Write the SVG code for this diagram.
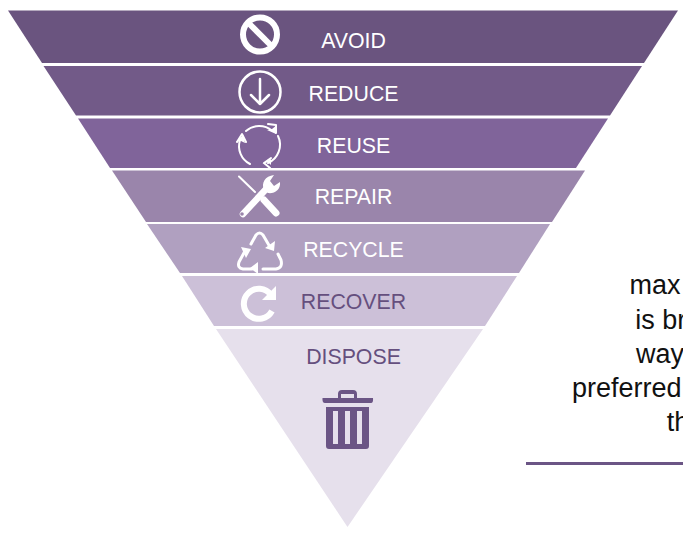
<svg xmlns="http://www.w3.org/2000/svg" width="683" height="535" viewBox="0 0 683 535">
<style>
text{font-family:"Liberation Sans",Arial,sans-serif}
.lb{font-size:21.3px;text-anchor:middle;fill:#fff}
.dk{fill:#654f7e}
.body{font-size:27px;text-anchor:middle;fill:#111}
.ic{fill:none;stroke:#fff;stroke-linecap:round;stroke-linejoin:round}
.wf{fill:#fff;stroke:none}
</style>
<rect width="683" height="535" fill="#fff"/>
<g id="avoid"><polygon points="8,10.5 678,10.5 644,63 42,63" fill="#6a547f"/><g class="ic"><circle cx="260" cy="34.500" r="17" stroke-width="6"/><path d="M248,22.500 272,46.500" stroke-width="6" stroke-linecap="butt"/></g><text class="lb" x="353.500" y="47.500">AVOID</text></g>
<g id="reduce"><polygon points="43.500,66 642,66 610,115.500 76,115.500" fill="#725a88"/><g class="ic"><circle cx="260" cy="92" r="20.500" stroke-width="2.500"/><path d="M260,79V104M251,95 260,104 269,95" stroke-width="2.500"/></g><text class="lb" x="353.500" y="101">REDUCE</text></g>
<g id="reuse"><polygon points="78,118.500 608,118.500 576,168 110,168" fill="#80649a"/><g class="ic" stroke-width="2"><path d="M246,131A20,20 0 0 1 272,130.500"/><path d="M278,136A20,20 0 0 1 268,163"/><path d="M250,164A20,20 0 0 1 240,140"/></g><path class="wf" d="M277,125 276,134 267,130 272,129Z M262,164 271,159 271,165 268,162Z M236,142 243,135 245,143 241,141Z"/><g class="ic" stroke-width="2"><path d="M268,124 276,125 276,133M271,158 264,163 270,168M237,142 242,134 246,142"/></g><text class="lb" x="353.500" y="153">REUSE</text></g>
<g id="repair"><polygon points="112,170.500 585,170.500 552,222 146,222" fill="#9a85ab"/><g class="ic"><path d="M239,176.500 255,192" stroke-width="2"/><path d="M264,200 276,213" stroke-width="7"/><path d="M243,214 268,187" stroke-width="6.500"/></g><path class="wf" d="M264,190C261,183 265,176 274,175L270,181 274,186 280,182C281,190 274,194 268,193Z"/><circle cx="242" cy="214" r="1.800" fill="#9a85ab"/><text class="lb" x="353.500" y="204">REPAIR</text></g>
<g id="recycle"><polygon points="147,224 550,224 519,273 180,273" fill="#b0a0c0"/><g class="ic" stroke-width="3"><path d="M251,244 256,235Q259.500,231 263,235L270,247"/><path d="M278,254 281,260Q283,268 276,269H263"/><path d="M252,269H243Q237,268 239,262L245,251"/></g><path class="wf" d="M275,241 274,251 265,248Z M258,262 258,274 250,268Z M241,247 251,249 246,258Z"/><text class="lb" x="353.500" y="257">RECYCLE</text></g>
<g id="recover"><polygon points="182,276 517,276 485,326 214,326" fill="#ccc0d8"/><path d="M271,295A15,15 0 1 0 272,311" fill="none" stroke="#fff" stroke-width="6"/><path class="wf" d="M276,286V300H262Z"/><text class="lb dk" x="353.500" y="309">RECOVER</text></g>
<g id="dispose"><polygon points="216,329 483,329 347.500,527" fill="#e6e0ec"/><text class="lb dk" x="353.500" y="364">DISPOSE</text><g fill="#6b5585"><path fill-rule="evenodd" d="M338,398V394Q338,390 342,390H353Q357,390 357,394V398H373Q373.500,403 371,403H325Q322,403 322.500,398ZM341,398H354V394H341Z"/><path fill-rule="evenodd" d="M326,407H369V446Q369,449 366,449H329Q326,449 326,446ZM333,411V444H338V411ZM345,411V444H350V411ZM357,411V444H362V411Z"/></g></g>
<g id="connectors"><line x1="526" y1="463.500" x2="683" y2="463.500" stroke="#6b5585" stroke-width="3"/></g>
<g id="caption"><text class="body" x="655" y="294">max</text><text class="body" x="690" y="329">is broken</text><text class="body" x="660" y="363">way</text><text class="body" x="627" y="397" style="text-anchor:start" dx="-55">preferred</text><text class="body" x="678" y="431">th</text></g>
</svg>
